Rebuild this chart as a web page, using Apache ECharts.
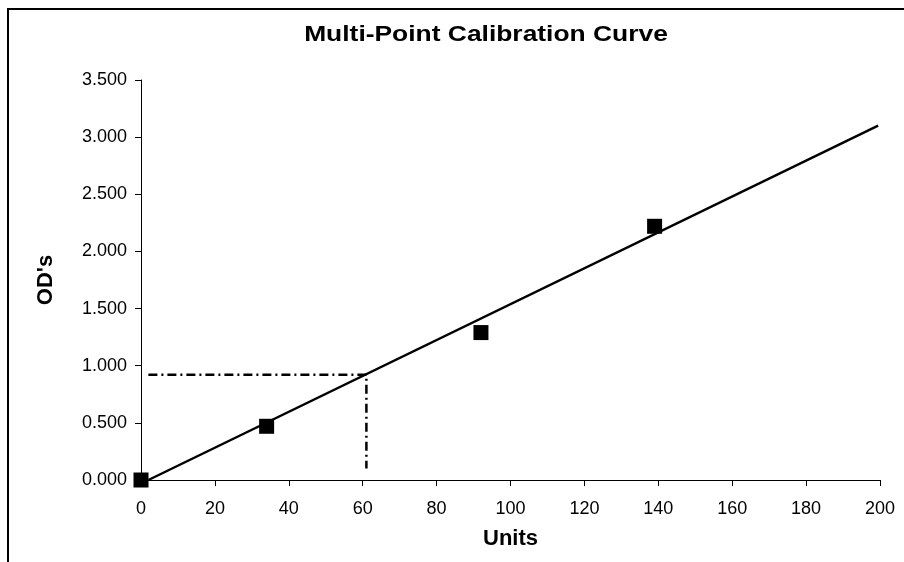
<!DOCTYPE html>
<html>
<head>
<meta charset="utf-8">
<title>Multi-Point Calibration Curve</title>
<script src="https://cdn.jsdelivr.net/npm/echarts@6/dist/echarts.min.js"></script>
<style>
  html, body { margin: 0; padding: 0; background: #fff; }
  #chart { width: 904px; height: 562px; }
</style>
</head>
<body>
<div id="chart"></div>
<script>
// calibration standards (Units vs OD)
const stdUnits = [0, 34, 92, 139];
const stdOD = [0, 0.47, 1.29, 2.22];

// fitted line end points
const fitUnits = [2, 199.5];
const fitOD = [0, 3.1];

// read-off guide for the unknown sample
const guideUnits = [2, 61, 61];
const guideOD = [0.92, 0.92, 0.1];

const xTicks = { min: 0, max: 200, step: 20 };
const yTicks = { min: 0, max: 3.5, step: 0.5 };

const pairs = (xs, ys) => xs.map((x, i) => [x, ys[i]]);

const font = "'Liberation Sans', Arial, sans-serif";
const chart = echarts.init(document.getElementById("chart"), null, { renderer: "canvas" });

const option = {
  animation: false,
  backgroundColor: "#fff",
  grid: { left: 141, right: 24, top: 80, bottom: 82 },
  // outer chart frame + stretched title like the Excel original
  graphic: [
    {
      type: "polyline",
      shape: { points: [[8, 562], [8, 9], [904, 9]] },
      style: { stroke: "#000", lineWidth: 2, fill: null },
    },
    {
      type: "text",
      x: 486,
      y: 35,
      scaleX: 1.2,
      style: {
        text: "Multi-Point Calibration Curve",
        font: "bold 22px " + font,
        fill: "#000",
        align: "center",
        verticalAlign: "middle",
      },
    },
  ],
  xAxis: {
    type: "value",
    min: xTicks.min,
    max: xTicks.max,
    interval: xTicks.step,
    name: "Units",
    nameLocation: "middle",
    nameGap: 48,
    nameTextStyle: { fontFamily: font, fontSize: 22, fontWeight: "bold", color: "#000" },
    axisLine: { show: true, lineStyle: { color: "#000", width: 1 } },
    axisTick: { show: true, length: 6, lineStyle: { color: "#000" } },
    axisLabel: { fontFamily: font, fontSize: 18, color: "#000", margin: 20 },
    splitLine: { show: false },
  },
  yAxis: {
    type: "value",
    min: yTicks.min,
    max: yTicks.max,
    interval: yTicks.step,
    name: "OD's",
    nameLocation: "middle",
    nameGap: 84,
    nameTextStyle: { fontFamily: font, fontSize: 22, fontWeight: "bold", color: "#000" },
    axisLine: { show: true, lineStyle: { color: "#000", width: 1 } },
    axisTick: { show: true, length: 6, lineStyle: { color: "#000" } },
    axisLabel: {
      fontFamily: font,
      fontSize: 18,
      color: "#000",
      margin: 14,
      formatter: (v) => v.toFixed(3),
    },
    splitLine: { show: false },
  },
  series: [
    {
      name: "Fit",
      type: "line",
      data: pairs(fitUnits, fitOD),
      showSymbol: false,
      lineStyle: { color: "#000", width: 2.5 },
      z: 2,
    },
    {
      name: "Guide",
      type: "line",
      data: pairs(guideUnits, guideOD),
      showSymbol: false,
      lineStyle: { color: "#000", width: 2.5, type: [9, 4, 2, 4] },
      z: 2,
    },
    {
      name: "Standards",
      type: "scatter",
      data: pairs(stdUnits, stdOD),
      symbol: "rect",
      symbolSize: 15,
      itemStyle: { color: "#000", opacity: 1 },
      z: 3,
    },
  ],
};

chart.setOption(option);
</script>
</body>
</html>
